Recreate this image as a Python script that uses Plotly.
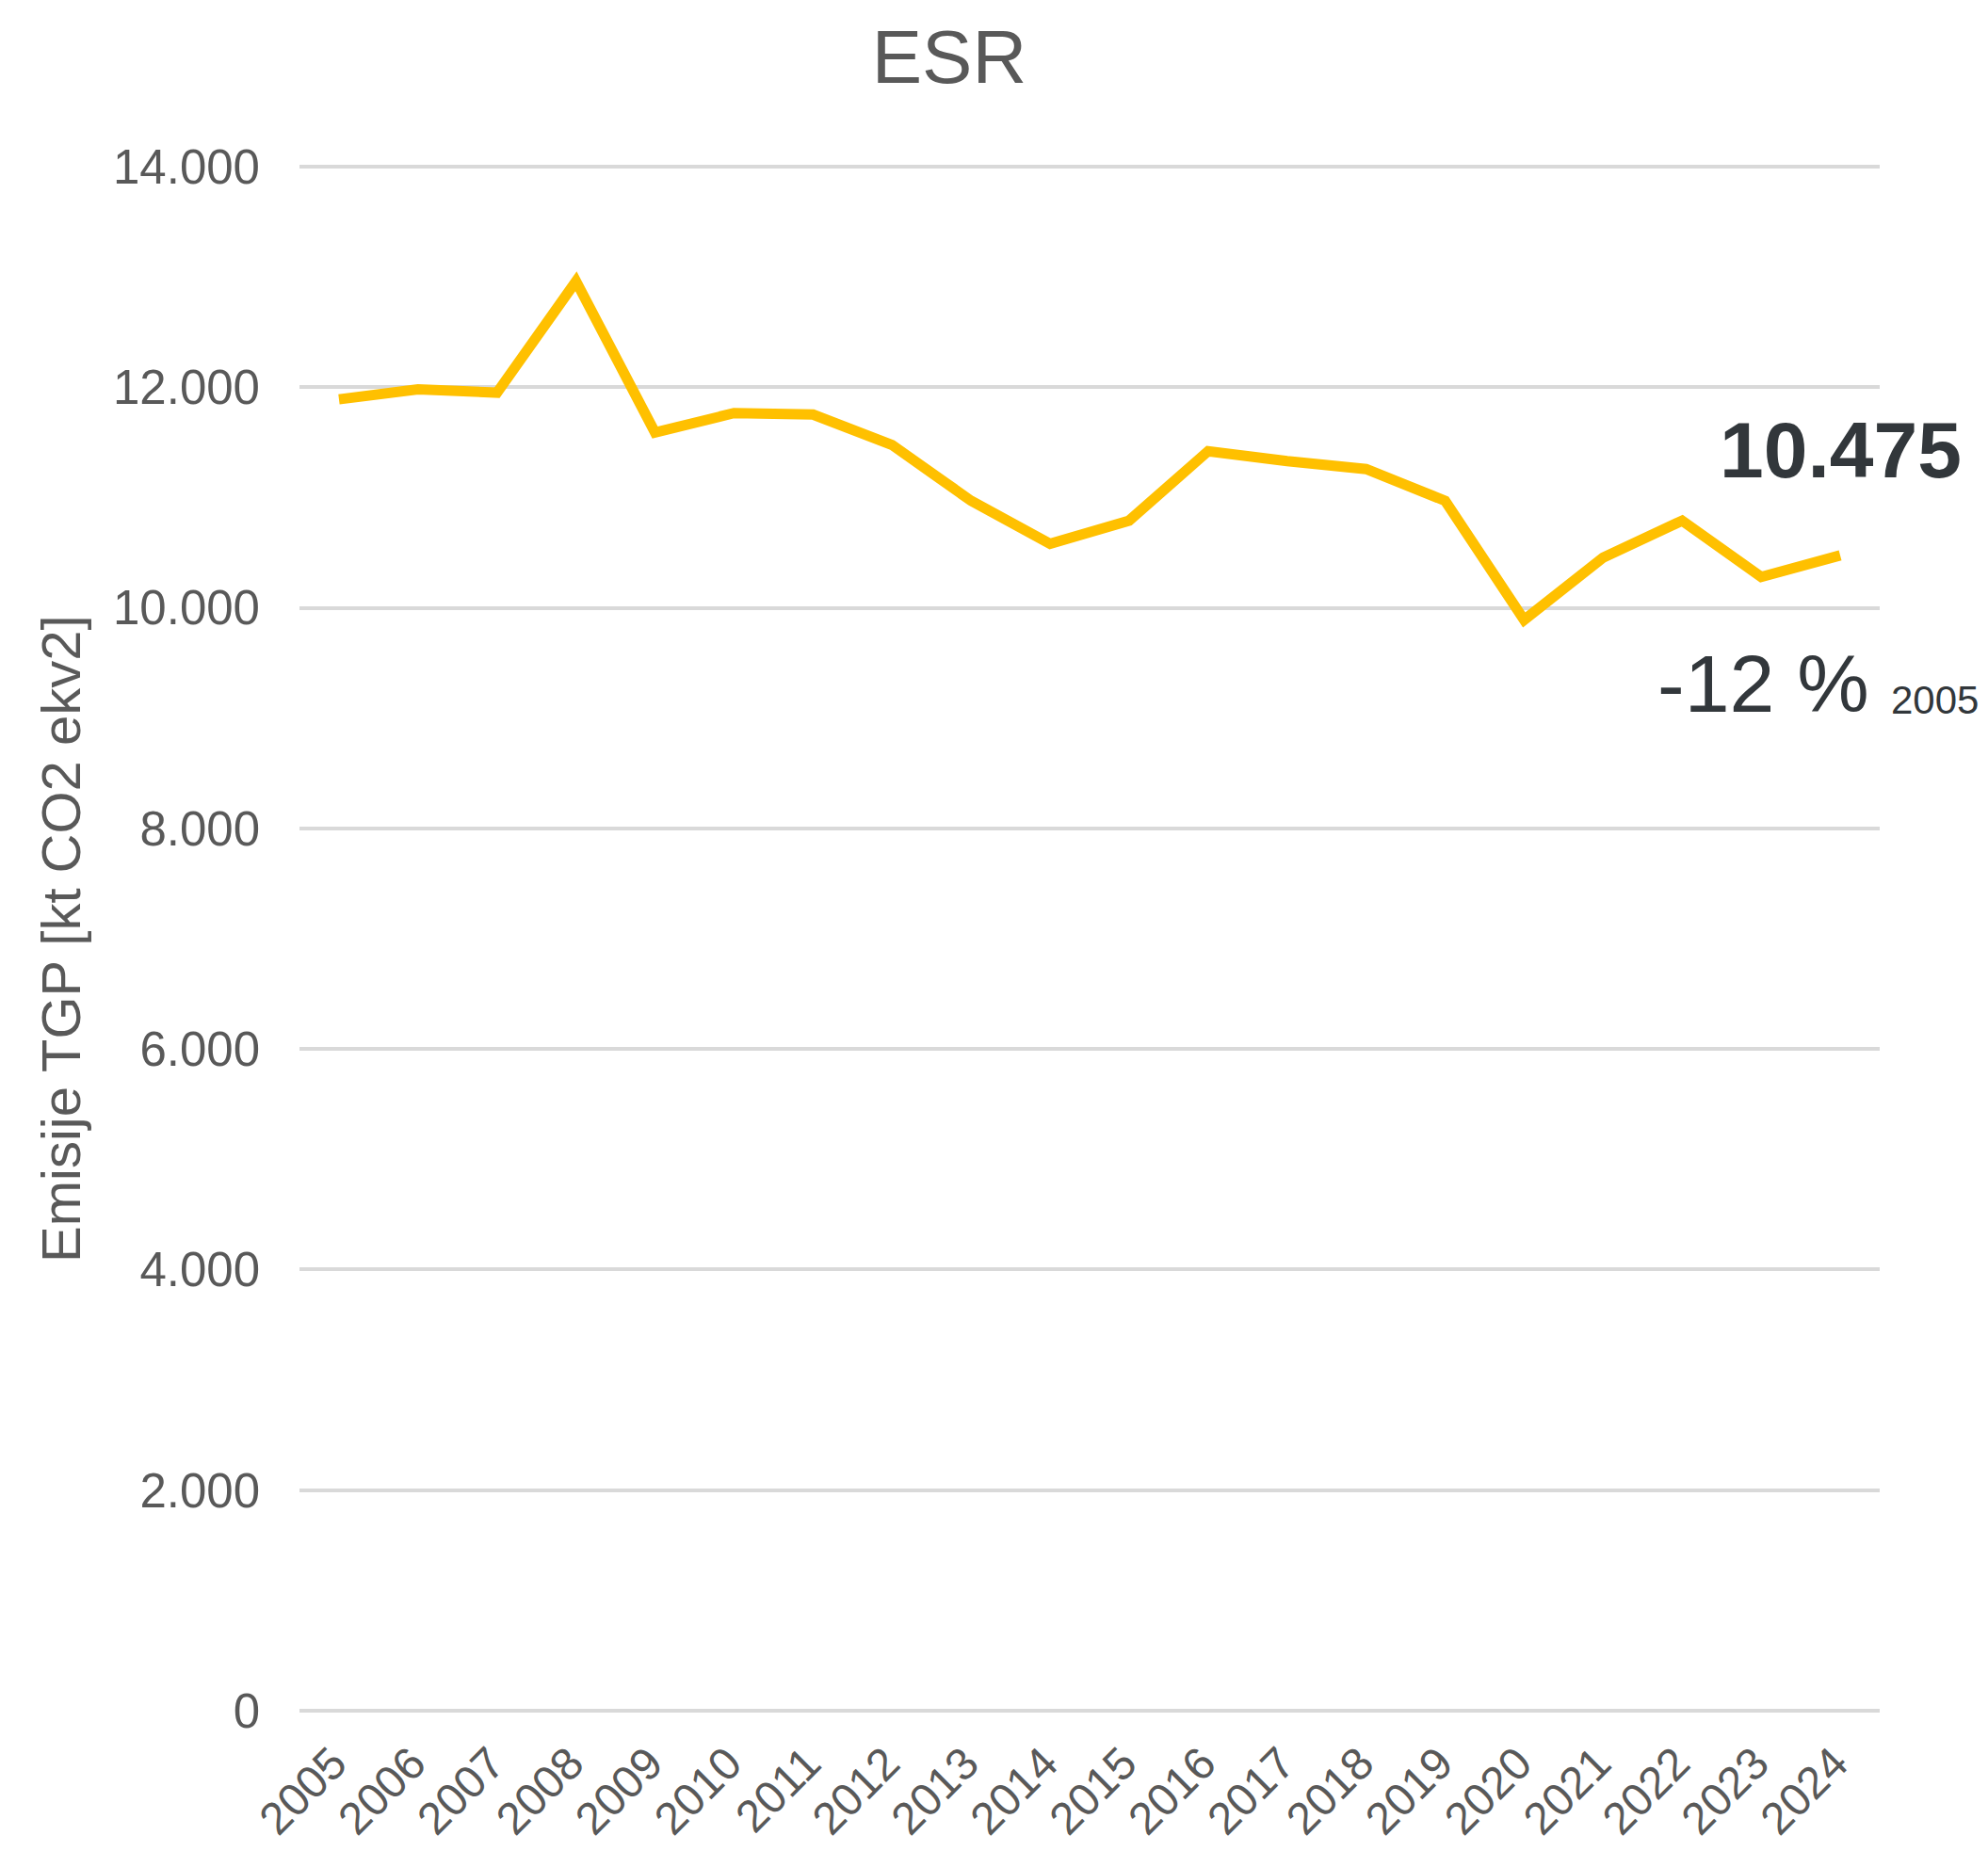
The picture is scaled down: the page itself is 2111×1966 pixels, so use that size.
import plotly.graph_objects as go

years = [str(y) for y in range(2005, 2025)]
emissions = [11890, 11980, 11950, 12960, 11590, 11765, 11752, 11476, 10970, 10580,
             10790, 11420, 11330, 11258, 10970, 9890, 10455, 10790, 10280, 10475]
y_ticks = [0, 2000, 4000, 6000, 8000, 10000, 12000, 14000]

W, H = 2111, 1966
OFF = 8  # page body margin
L, R, T, B = 318 - OFF, 115 + OFF, 174 - OFF, 146 + OFF
FONT = "Liberation Sans, Arial, sans-serif"
GREY = "#595959"
DARK = "#32373B"

def px(xs):
    xp = xs - OFF
    return (xp - L) / (W - L - R)

def py(ys):
    yp = ys - OFF
    return (H - B - yp) / (H - T - B)

fig = go.Figure()
fig.add_trace(go.Scatter(
    x=years, y=emissions, mode="lines",
    line=dict(color="#FFC000", width=11),
    hoverinfo="skip", showlegend=False,
))

fig.update_layout(
    width=W, height=H,
    margin=dict(l=L, r=R, t=T, b=B, autoexpand=False),
    paper_bgcolor="white", plot_bgcolor="white",
    separators=",.",
    font=dict(family=FONT, color=GREY),
    title=dict(text="ESR", x=(1008 - OFF) / W, xref="container", xanchor="center",
               y=1 - (60 - OFF) / H, yref="container", yanchor="middle",
               font=dict(size=80, color=GREY, family=FONT)),
    xaxis=dict(type="category", range=[-0.5, 19.5], showgrid=False, zeroline=False,
               showline=False, ticks="", tickangle=-45, ticklabelstandoff=14,
               ticklabelshift=-6, automargin=False,
               tickfont=dict(size=48, color=GREY, family=FONT)),
    yaxis=dict(range=[-25, 14025], tickvals=y_ticks, tickformat=",.0f",
               showgrid=True, gridcolor="#D9D9D9", gridwidth=4, zeroline=False,
               showline=False, ticks="", ticklabelstandoff=41, automargin=False,
               tickfont=dict(size=51, color=GREY, family=FONT)),
)

fig.add_annotation(text="Emisije TGP [kt CO2 ekv2]", textangle=-90,
                   xref="paper", yref="paper", x=px(64), y=py(997),
                   xanchor="center", yanchor="middle", showarrow=False,
                   font=dict(size=58, color=GREY, family=FONT))
fig.add_annotation(text="<b>10.475</b>", xref="paper", yref="paper",
                   x=px(1954), y=py(478), xanchor="center", yanchor="middle",
                   showarrow=False, font=dict(size=84, color=DARK, family=FONT))
fig.add_annotation(text="-12 %", xref="paper", yref="paper",
                   x=px(1758), y=py(726), xanchor="left", yanchor="middle",
                   showarrow=False, font=dict(size=86, color=DARK, family=FONT))
fig.add_annotation(text="2005", xref="paper", yref="paper",
                   x=px(2006), y=py(743), xanchor="left", yanchor="middle",
                   showarrow=False, font=dict(size=42, color=DARK, family=FONT))

fig.write_html("out.html")
